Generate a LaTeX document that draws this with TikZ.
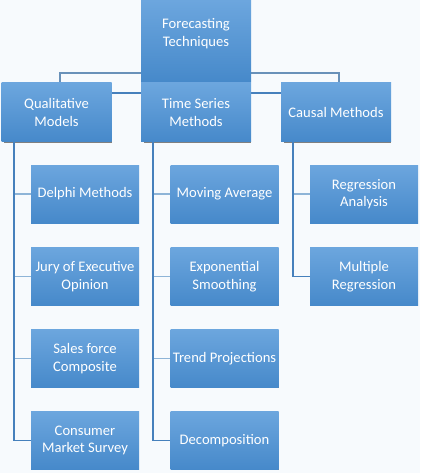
\documentclass[tikz,border=0pt]{standalone}
\usepackage{fontspec}
\setmainfont{Carlito}
\usetikzlibrary{shadows,calc}
\definecolor{boxtop}{RGB}{108,166,222}
\definecolor{boxbot}{RGB}{70,137,202}
\definecolor{spineblue}{RGB}{70,128,188}
\definecolor{stubblue}{RGB}{142,180,215}
\definecolor{hubgray}{RGB}{105,145,185}
\definecolor{bgpale}{RGB}{247,250,253}
\tikzstyle{box} = [top color=boxtop, bottom color=boxbot, text=white, align=center, inner sep=0.5pt,
  font=\fontsize{14.6}{17.5}\selectfont,
  general shadow={shadow yshift=-1.3pt, shadow xshift=1.5pt, shadow scale=0.98, fill=black!50}]
\tikzstyle{topbox} = [box, minimum width=110pt, minimum height=59pt]
\tikzstyle{subbox} = [box, minimum width=108pt, minimum height=58pt]
\tikzstyle{spine} = [spineblue, line width=1.8pt]
\tikzstyle{stub} = [stubblue, line width=1.8pt]
\tikzstyle{hub} = [hubgray, line width=1.1pt]

\begin{document}
\begin{tikzpicture}[x=1pt, y=-1pt]

% canvas
\fill[bgpale] (0,0) rectangle (420,473);
\useasboundingbox (0,0) rectangle (420,473);

% links behind the first row
\coordinate (hubc) at (196,73);
\coordinate (qspine) at (14,142);
\coordinate (tspine) at (153,142);
\coordinate (cspine) at (293,142);
\draw[hub] (60,83) |- (hubc) -| (339,83);
\draw[spine] (112,93) -- (281,93);

% first two levels
\node[topbox, minimum height=82pt] (root) at (196,41) {Forecasting\\Techniques\\\mbox{}};
\node[topbox] (qual) at (56.5,112.5) {Qualitative\\Models};
\node[topbox] (time) at (196,112.5) {Time Series\\Methods};
\node[topbox] (causal) at (336,112.5) {Causal Methods};

% qualitative models
\node[subbox] (delphi) at (85,194) {Delphi Methods};
\node[subbox] (jury) at (85,276.5) {Jury of Executive\\Opinion};
\node[subbox] (sales) at (85,358.5) {Sales force\\Composite};
\node[subbox] (consumer) at (85,440.5) {Consumer\\Market Survey};

% time series methods
\node[subbox] (moving) at (224.5,194) {Moving Average};
\node[subbox] (expo) at (224.5,276.5) {Exponential\\Smoothing};
\node[subbox] (trend) at (224.5,358.5) {Trend Projections};
\node[subbox] (decomp) at (224.5,440.5) {Decomposition};

% causal methods
\node[subbox] (regan) at (364,194) {Regression\\Analysis};
\node[subbox] (multreg) at (364,276.5) {Multiple\\Regression};

% child links
\foreach \kid in {delphi,jury,sales}
  \draw[stub] (qspine |- \kid.west) -- (\kid.west);
\foreach \kid in {moving,expo,trend}
  \draw[stub] (tspine |- \kid.west) -- (\kid.west);
\draw[stub] (cspine |- regan.west) -- (regan.west);
\draw[spine] (qspine) |- (consumer.west);
\draw[spine] (tspine) |- (decomp.west);
\draw[spine] (cspine) |- (multreg.west);

\end{tikzpicture}
\end{document}
